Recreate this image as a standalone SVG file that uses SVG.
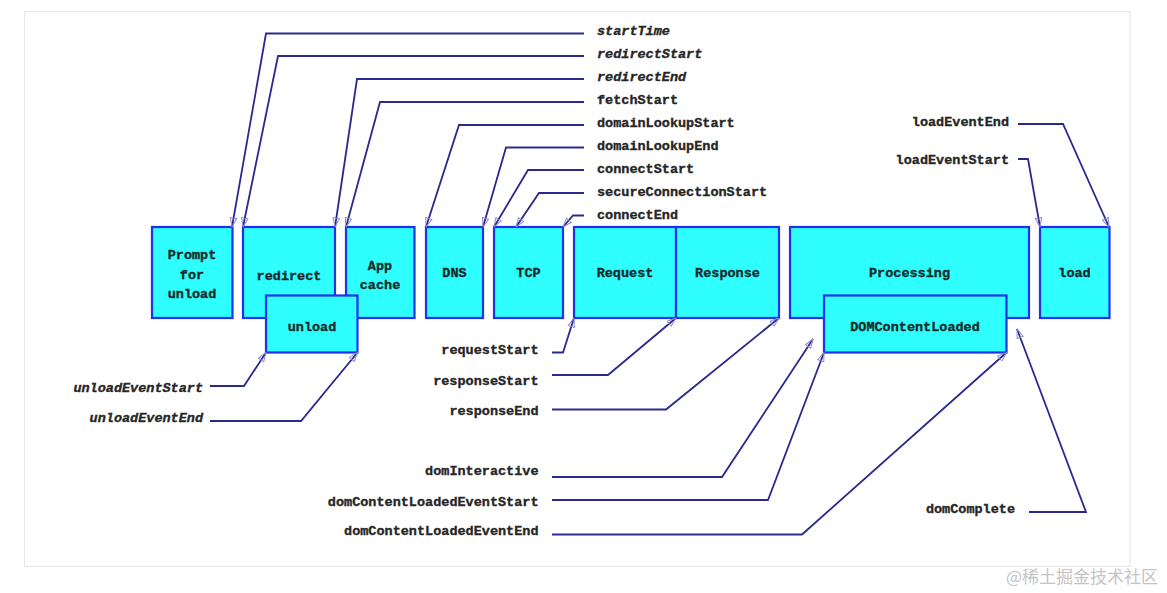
<svg xmlns="http://www.w3.org/2000/svg" width="1167" height="593" viewBox="0 0 1167 593">
<defs>
<marker id="ah" viewBox="0 0 10 8" refX="9.5" refY="4" markerWidth="10" markerHeight="8" markerUnits="userSpaceOnUse" orient="auto">
<path d="M0.5,0.8 L9.5,4 L0.5,7.2 Z" fill="none" stroke="#8a8ad0" stroke-width="1"/>
</marker>
<style>
.box{fill:#2efefe;stroke:#1f30ee;stroke-width:2.2}
.bl{font-family:"Liberation Mono","Courier New",monospace;font-weight:bold;font-size:13.5px;fill:#1a2a2a;stroke:#1a2a2a;stroke-width:0.35;text-anchor:middle}
.lb{font-family:"Liberation Mono","Courier New",monospace;font-weight:bold;font-size:13.5px;fill:#262626;stroke:#262626;stroke-width:0.35}
.it{font-style:italic}
.e{text-anchor:end}
.c{fill:none;stroke:#2a2a8e;stroke-width:1.8;marker-end:url(#ah)}
</style>
</defs>
<rect x="0" y="0" width="1167" height="593" fill="#ffffff"/>
<rect x="24.5" y="11.5" width="1105.5" height="555" fill="none" stroke="#e8e8e8" stroke-width="1.2"/>

<g id="prompt"><rect class="box" x="152" y="227" width="80.5" height="91"/><text class="bl" x="192" y="259">Prompt</text><text class="bl" x="192" y="279">for</text><text class="bl" x="192" y="298">unload</text></g>
<g id="redirect"><rect class="box" x="243" y="227" width="92" height="91"/><text class="bl" x="289" y="279.5">redirect</text></g>
<g id="appcache"><rect class="box" x="346" y="227" width="68.5" height="91"/><text class="bl" x="380" y="269.5">App</text><text class="bl" x="380" y="289">cache</text></g>
<g id="unload"><rect class="box" x="266" y="295.5" width="91.5" height="57"/><text class="bl" x="312" y="331">unload</text></g>
<g id="dns"><rect class="box" x="426" y="227" width="57" height="91"/><text class="bl" x="454.5" y="276.5">DNS</text></g>
<g id="tcp"><rect class="box" x="494" y="227" width="69" height="91"/><text class="bl" x="528.5" y="276.5">TCP</text></g>
<g id="request"><rect class="box" x="574" y="227" width="102" height="91"/><text class="bl" x="625" y="276.5">Request</text></g>
<g id="response"><rect class="box" x="676" y="227" width="103" height="91"/><text class="bl" x="727.5" y="276.5">Response</text></g>
<g id="processing"><rect class="box" x="790" y="227" width="239" height="91"/><text class="bl" x="909.5" y="276.5">Processing</text></g>
<g id="domcontentloaded"><rect class="box" x="824" y="295.5" width="182.5" height="57"/><text class="bl" x="915" y="330.5">DOMContentLoaded</text></g>
<g id="load"><rect class="box" x="1040" y="227" width="69.5" height="91"/><text class="bl" x="1074.5" y="276.5">load</text></g>

<g id="labels">
<text class="lb it" x="597" y="34.5">startTime</text>
<text class="lb it" x="597" y="58">redirectStart</text>
<text class="lb it" x="597" y="81">redirectEnd</text>
<text class="lb" x="597" y="104">fetchStart</text>
<text class="lb" x="597" y="127">domainLookupStart</text>
<text class="lb" x="597" y="150">domainLookupEnd</text>
<text class="lb" x="597" y="173">connectStart</text>
<text class="lb" x="597" y="196">secureConnectionStart</text>
<text class="lb" x="597" y="219">connectEnd</text>
<text class="lb e" x="1009" y="125.5">loadEventEnd</text>
<text class="lb e" x="1009" y="163.5">loadEventStart</text>
<text class="lb it e" x="203" y="392">unloadEventStart</text>
<text class="lb it e" x="203" y="421.5">unloadEventEnd</text>
<text class="lb e" x="538.5" y="353.5">requestStart</text>
<text class="lb e" x="538.5" y="384.5">responseStart</text>
<text class="lb e" x="538.5" y="414.5">responseEnd</text>
<text class="lb e" x="538.5" y="475">domInteractive</text>
<text class="lb e" x="538.5" y="506">domContentLoadedEventStart</text>
<text class="lb e" x="538.5" y="535">domContentLoadedEventEnd</text>
<text class="lb e" x="1015" y="513">domComplete</text>
</g>

<g id="connectors">
<path class="c" d="M584,33.5 H266 L232,227"/>
<path class="c" d="M584,56 H278 L243,227"/>
<path class="c" d="M584,79 H357 L335,227"/>
<path class="c" d="M584,102 H380 L346,227"/>
<path class="c" d="M584,125 H459 L426,227"/>
<path class="c" d="M584,147.5 H506 L483,227"/>
<path class="c" d="M584,170 H528 L494,227"/>
<path class="c" d="M584,193 H539 L516,227"/>
<path class="c" d="M584,215.5 H573 L563,227"/>
<path class="c" d="M1018,124 H1063 L1109,227"/>
<path class="c" d="M1018,159 H1028 L1040,227"/>
<path class="c" d="M210,386 H244 L266,352.5"/>
<path class="c" d="M210,421 H301 L357.5,352.5"/>
<path class="c" d="M552,352.5 H563 L574,318"/>
<path class="c" d="M552,375 H608 L676,318"/>
<path class="c" d="M552,409.5 H666 L779,318"/>
<path class="c" d="M552,477 H722 L813,339"/>
<path class="c" d="M552,500 H768 L824,352.5"/>
<path class="c" d="M552,534.5 H802 L1006.5,352.5"/>
<path class="c" d="M1029,512 H1086 L1017,329"/>
</g>

<text x="1158" y="583" text-anchor="end" font-family="'Noto Sans CJK SC',sans-serif" font-size="17" fill="#c4c4c4">@稀土掘金技术社区</text>
</svg>
